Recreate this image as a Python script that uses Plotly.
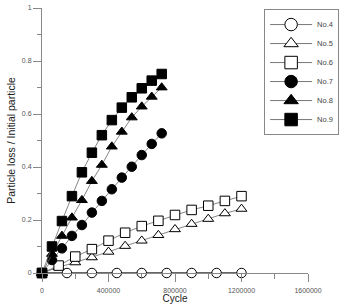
import plotly.graph_objects as go

# ---- data ----
x4 = [0, 150000, 300000, 450000, 600000, 750000, 900000, 1050000, 1200000]
y4 = [0, 0, 0, 0, 0, 0, 0, 0, 0]

x56 = [0, 100000, 200000, 300000, 400000, 500000, 600000, 700000, 800000, 900000, 1000000, 1100000, 1200000]
y5 = [0, 0.022, 0.040, 0.059, 0.080, 0.102, 0.122, 0.143, 0.165, 0.185, 0.204, 0.225, 0.242]
y6 = [0, 0.028, 0.062, 0.090, 0.122, 0.152, 0.177, 0.197, 0.219, 0.238, 0.254, 0.272, 0.290]

x789 = [0, 60000, 120000, 180000, 240000, 300000, 360000, 420000, 480000, 540000, 600000, 660000, 720000]
y7 = [0, 0.049, 0.093, 0.140, 0.181, 0.228, 0.272, 0.316, 0.360, 0.401, 0.445, 0.487, 0.527]
y8 = [0, 0.072, 0.140, 0.209, 0.275, 0.347, 0.408, 0.477, 0.533, 0.587, 0.628, 0.665, 0.700]
y9 = [0, 0.100, 0.196, 0.290, 0.380, 0.454, 0.520, 0.577, 0.624, 0.663, 0.697, 0.726, 0.751]

names = ["No.4", "No.5", "No.6", "No.7", "No.8", "No.9"]
xs = [x4, x56, x56, x789, x789, x789]
ys = [y4, y5, y6, y7, y8, y9]
symbols = ["circle", "triangle-up", "square", "circle", "triangle-up", "square"]
filled = [False, False, False, True, True, True]

fig = go.Figure()
for i, n in enumerate(names):
    fig.add_trace(go.Scatter(
        x=xs[i], y=ys[i], name=n, mode="lines+markers", showlegend=False,
        legendgroup=n,
        line=dict(color="#666666", width=1.8 if n == "No.4" else 0.8),
        marker=dict(symbol=symbols[i], size=9.5,
                    color="black" if filled[i] else "white",
                    line=dict(color="black", width=1)),
        cliponaxis=False,
    ))
# legend entries (larger symbols, thin lines, as in the original key)
for i, n in enumerate(names):
    fig.add_trace(go.Scatter(
        x=[None], y=[None], name=n, mode="lines+markers", legendgroup=n,
        line=dict(color="#555555", width=0.8),
        marker=dict(symbol=symbols[i], size=12.5,
                    color="black" if filled[i] else "white",
                    line=dict(color="black", width=1)),
    ))

axis_common = dict(
    showgrid=False, zeroline=False, showline=True, linecolor="#888888", linewidth=1,
    ticks="outside", ticklen=8, tickcolor="#888888", tickwidth=1,
    tickfont=dict(size=7, color="#555555", family="Liberation Sans"),
)
fig.update_xaxes(range=[0, 1600000], dtick=400000, tickformat="d",
                 minor=dict(ticks="outside", ticklen=4.5, dtick=200000, tickcolor="#888888"),
                 ticklabelstandoff=3,
                 title=dict(text="Cycle", font=dict(size=10, color="#222222", family="Liberation Sans"), standoff=4),
                 **axis_common)
fig.update_yaxes(range=[0, 1], dtick=0.2,
                 minor=dict(ticks="outside", ticklen=4.5, dtick=0.1, tickcolor="#888888"),
                 title=dict(text="Particle loss / Initial particle", font=dict(size=10.5, color="#222222", family="Liberation Sans"), standoff=4),
                 **axis_common)

fig.update_layout(
    width=346, height=304,
    margin=dict(l=42, r=38, t=8, b=31, autoexpand=False),
    paper_bgcolor="white", plot_bgcolor="white",
    font=dict(family="Liberation Sans"),
    legend=dict(x=0.835, y=0.996, xanchor="left", yanchor="top",
                bordercolor="#888888", borderwidth=1, bgcolor="white",
                itemwidth=42, groupclick="togglegroup",
                font=dict(size=7.5, color="#444444"), tracegroupgap=0),
)
fig.write_html("out.html")
